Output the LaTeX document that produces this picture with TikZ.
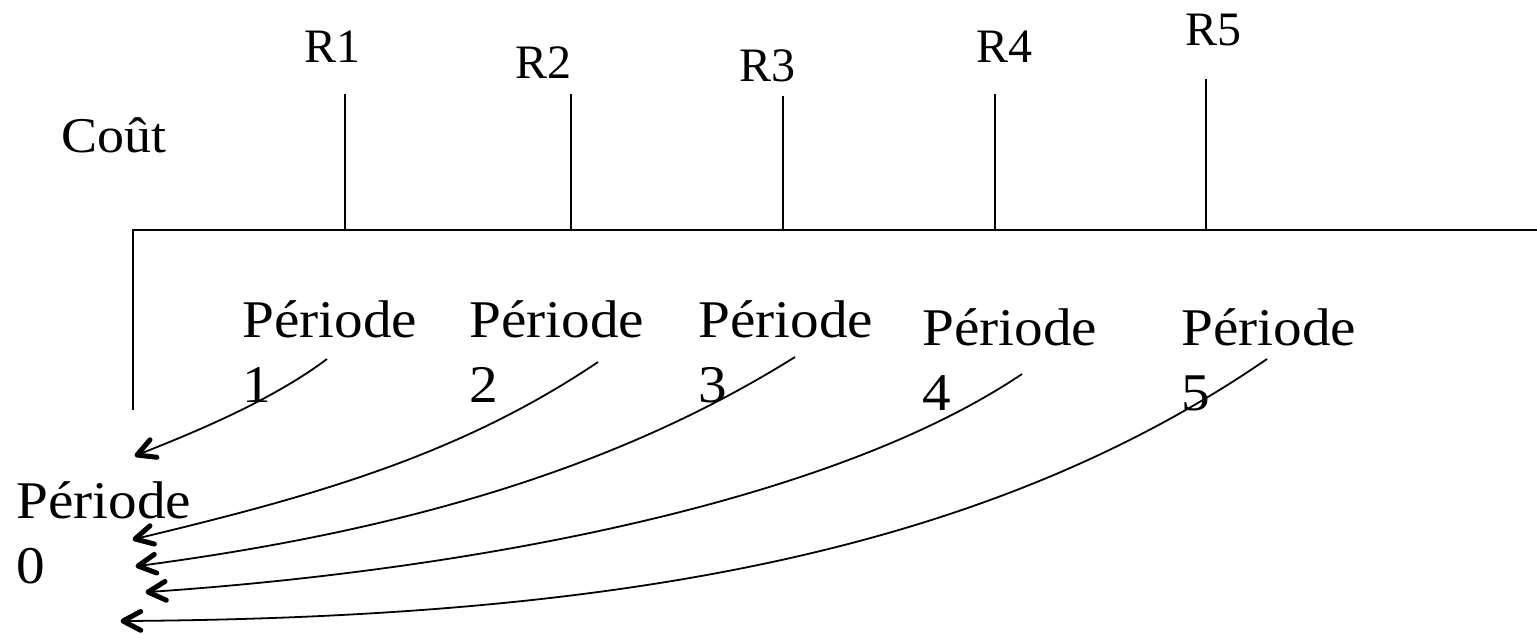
\documentclass[tikz,border=0pt]{standalone}
\usepackage{fontspec}
\setmainfont{Liberation Serif}
\newfontfamily\pfont[FakeStretch=1.08]{Liberation Serif}
\usetikzlibrary{calc}
\begin{document}
\begin{tikzpicture}[x=1pt,y=-1pt,
  axisline/.style={line width=2.2pt},
  tickline/.style={line width=1.8pt},
  rlab/.style={anchor=base west, inner sep=0pt, font=\fontsize{48}{58}\selectfont},
  plab/.style={anchor=base west, inner sep=0pt, align=left, font=\pfont\fontsize{53}{65}\selectfont},
  clab/.style={anchor=base west, inner sep=0pt, font=\pfont\fontsize{50}{60}\selectfont},
  flow/.style={line width=1.8pt},
  headline/.style={line width=5pt, line cap=round, line join=round},
]
\useasboundingbox (0,0) rectangle (1537,633);

% axes
\coordinate (ybot) at (133,410);
\coordinate (orig) at (133,230);
\coordinate (xend) at (1537,230);
\draw[axisline] (ybot) -- (orig) -- (xend);

% ticks
\coordinate (t1) at (345,94);   \coordinate (b1) at (345,230);
\coordinate (t2) at (571,94);   \coordinate (b2) at (571,230);
\coordinate (t3) at (783,96);   \coordinate (b3) at (783,230);
\coordinate (t4) at (995,94);   \coordinate (b4) at (995,230);
\coordinate (t5) at (1206,79);  \coordinate (b5) at (1206,230);
\foreach \i in {1,...,5} \draw[tickline] (t\i) -- (b\i);

% labels
\node[clab] (cout) at (61,152) {Coût};
\node[rlab] (r1) at (304,62) {R1};
\node[rlab] (r2) at (515,78) {R2};
\node[rlab] (r3) at (739,81) {R3};
\node[rlab] (r4) at (976,62) {R4};
\node[rlab] (r5) at (1185,45) {R5};

\node[plab] (p0) at (16,583) {Période\\0};
\node[plab] (p1) at (242,402) {Période\\1};
\node[plab] (p2) at (469,402) {Période\\2};
\node[plab] (p3) at (698,402) {Période\\3};
\node[plab] (p4) at (922,410) {Période\\4};
\node[plab] (p5) at (1181,410) {Période\\5};

% arrows: start, end, control points
\coordinate (s1) at (327,359);  \coordinate (e1) at (137,455);
\coordinate (a1) at (271,401);  \coordinate (c1) at (193,433);
\coordinate (s2) at (598,362);  \coordinate (e2) at (135,539);
\coordinate (a2) at (457,457);  \coordinate (c2) at (310,497);
\coordinate (s3) at (795,357);  \coordinate (e3) at (138,566);
\coordinate (a3) at (608,474);  \coordinate (c3) at (388,533);
\coordinate (s4) at (1022,374); \coordinate (e4) at (148,592);
\coordinate (a4) at (823,508);  \coordinate (c4) at (448,572);
\coordinate (s5) at (1267,359); \coordinate (e5) at (123,621);
\coordinate (a5) at (979,557);  \coordinate (c5) at (603,618);
\foreach \i in {1,...,5}{
  \draw[flow] (s\i) .. controls (a\i) and (c\i) .. (e\i);
  \draw[headline] ($(e\i)!20pt!28:(c\i)$) -- (e\i) -- ($(e\i)!20pt!-28:(c\i)$);
}
\end{tikzpicture}
\end{document}
